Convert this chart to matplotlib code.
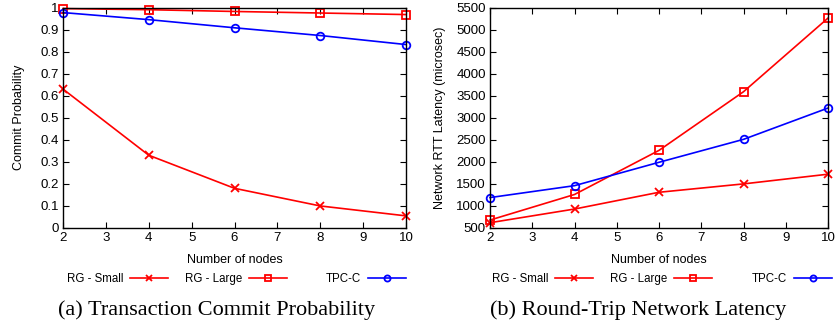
import matplotlib.pyplot as plt
import numpy as np

nodes = [2, 4, 6, 8, 10]

# (a) commit probability
commit_small = [0.63, 0.33, 0.18, 0.10, 0.055]
commit_large = [0.995, 0.99, 0.982, 0.975, 0.968]
commit_tpcc = [0.977, 0.945, 0.908, 0.873, 0.832]

# (b) round-trip latency (microsec)
rtt_small = [620, 930, 1310, 1500, 1720]
rtt_large = [680, 1260, 2260, 3590, 5260]
rtt_tpcc = [1190, 1460, 1990, 2510, 3220]

series_labels = ["RG - Small", "RG - Large", "TPC-C"]
captions = ["(a) Transaction Commit Probability", "(b) Round-Trip Network Latency"]

plt.rcParams["font.family"] = ["Liberation Sans", "DejaVu Sans"]

W, H = 838, 327
fig = plt.figure(figsize=(W / 100, H / 100), dpi=100)

styles = [
    dict(color="#ff0000", marker="x", ms=5.5, mew=1.3),
    dict(color="#ff0000", marker="s", ms=5.5, mfc="none", mew=1.3),
    dict(color="#0000ff", marker="o", ms=5.5, mfc="none", mew=1.3),
]


def make_axes(x0, x1):
    return fig.add_axes([x0 / W, 1 - 228 / H, (x1 - x0) / W, (228 - 7.5) / H])


ax1 = make_axes(63, 406)
ax2 = make_axes(490, 828)

panels = [
    (ax1, [commit_small, commit_large, commit_tpcc], "Commit Probability",
     (0, 1), np.arange(0, 1.01, 0.1), 11),
    (ax2, [rtt_small, rtt_large, rtt_tpcc], "Network RTT Latency (microsec)",
     (500, 5500), np.arange(500, 5501, 500), 7),
]

legend_right = [[168, 287, 406], [593, 712, 832]]
caption_x = [217, 638]

for i, (ax, data, ylabel, ylim, yticks, ypad) in enumerate(panels):
    lines = []
    for vals, st in zip(data, styles):
        (ln,) = ax.plot(nodes, vals, lw=1.2, clip_on=False, **st)
        lines.append(ln)
    ax.set_xlim(2, 10)
    ax.set_ylim(*ylim)
    ax.set_xticks(range(2, 11))
    ax.set_yticks(yticks)
    if i == 0:
        ax.set_yticklabels(["0"] + ["%.1f" % v for v in yticks[1:-1]] + ["1"])
    ax.tick_params(direction="in", top=True, right=True, length=4, labelsize=9.5, pad=3)
    ax.set_xlabel("Number of nodes", fontsize=9, labelpad=7)
    ax.set_ylabel(ylabel, fontsize=9, labelpad=ypad)
    for sp in ax.spines.values():
        sp.set_linewidth(1.0)

    # gnuplot style key below: label then sample, one legend per entry
    for ln, lab, xr in zip(lines, series_labels, legend_right[i]):
        fig.legend([ln], [lab], loc="center right", markerfirst=False,
                   frameon=False, fontsize=8.3, handlelength=3.3, markerscale=0.8,
                   handletextpad=0.6, borderpad=0, borderaxespad=0,
                   bbox_to_anchor=(xr / W, 1 - 279 / H))

    fig.text(caption_x[i] / W, 1 - 310 / H, captions[i], ha="center", va="center",
             fontsize=16, family=["Liberation Serif", "DejaVu Serif"])

fig.savefig("out.png", dpi=100)
